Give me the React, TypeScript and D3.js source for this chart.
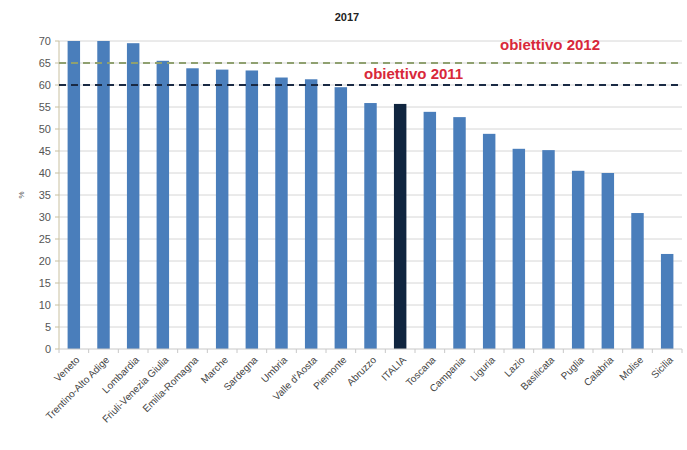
import React from "react";
import * as d3 from "d3";

const regions = [
  "Veneto", "Trentino-Alto Adige", "Lombardia", "Friuli-Venezia Giulia", "Emilia-Romagna",
  "Marche", "Sardegna", "Umbria", "Valle d'Aosta", "Piemonte", "Abruzzo", "ITALIA",
  "Toscana", "Campania", "Liguria", "Lazio", "Basilicata", "Puglia", "Calabria", "Molise", "Sicilia",
];
const values = [70.0, 70.0, 69.5, 65.5, 63.8, 63.5, 63.3, 61.7, 61.3, 59.5, 55.9, 55.7, 53.9, 52.7, 48.9, 45.5, 45.2, 40.5, 40.0, 30.9, 21.6];
const yTicks = [0, 5, 10, 15, 20, 25, 30, 35, 40, 45, 50, 55, 60, 65, 70];
const targets = [
  { label: "obiettivo 2011", value: 60 },
  { label: "obiettivo 2012", value: 65 },
];
const highlight = "ITALIA";

const W = 687, H = 450;
const M = { left: 59, right: 5, top: 41, bottom: 101 };

export default function App() {
  const x = d3.scaleBand<string>().domain(regions).range([M.left, W - M.right]).paddingInner(0.58).paddingOuter(0.29);
  const y = d3.scaleLinear().domain([0, 70]).range([H - M.bottom, M.top]);
  const left = M.left, right = W - M.right;
  const y0 = y(0);
  const boundaries = d3.range(regions.length + 1).map((i) => left + (right - left) * i / regions.length);
  return (
    <svg width={W} height={H} style={{ position: "absolute", left: 0, top: 0, background: "#fff" }} fontFamily="Liberation Sans, Arial, sans-serif">
      <text x={347} y={21} textAnchor="middle" fontSize={11} fontWeight="bold" fill="#222">2017</text>
      {yTicks.map((t) => (
        <g key={t}>
          {t > 0 && <line x1={left} x2={right} y1={y(t)} y2={y(t)} stroke="#d6d6d6" strokeWidth={1} />}
          <line x1={left - 4} x2={left} y1={y(t)} y2={y(t)} stroke="#c8c0a0" />
          <text x={left - 8} y={y(t)} dy="0.35em" textAnchor="end" fontSize={11} fill="#555">{t}</text>
        </g>
      ))}
      <text transform={`translate(24,${(y(0) + y(70)) / 2}) rotate(-90)`} textAnchor="middle" fontSize={8} fill="#555">%</text>
      <line x1={left} x2={left} y1={y(70)} y2={y0} stroke="#c8c0a0" />
      {regions.map((r, i) => (
        <rect key={r} x={x(r)} y={y(values[i])} width={x.bandwidth()} height={y0 - y(values[i])}
          fill={r === highlight ? "#10253f" : "#4a7ebb"} />
      ))}
      <line x1={left} x2={right} y1={y0} y2={y0} stroke="#c8c8c8" />
      {boundaries.map((b, i) => (
        <line key={i} x1={b} x2={b} y1={y0} y2={y0 + 4} stroke="#c8c8c8" />
      ))}
      <line x1={left} x2={right} y1={y(targets[1].value)} y2={y(targets[1].value)} stroke="#8fa070" strokeWidth={2} strokeDasharray="7,5" />
      <line x1={left} x2={right} y1={y(targets[0].value)} y2={y(targets[0].value)} stroke="#1a2a44" strokeWidth={2} strokeDasharray="7,5" />
      <text x={364} y={y(targets[0].value) - 6} fontSize={15} fontWeight="bold" fill="#d8283a">{targets[0].label}</text>
      <text x={500} y={y(targets[1].value) - 13} fontSize={15} fontWeight="bold" fill="#d8283a">{targets[1].label}</text>
      {regions.map((r) => {
        const cx = (x(r) as number) + x.bandwidth() / 2;
        return (
          <text key={r} transform={`translate(${cx + 4},${y0 + 9}) rotate(-45)`} textAnchor="end" fontSize={10} fill="#444" dy="0.35em">{r}</text>
        );
      })}
    </svg>
  );
}
